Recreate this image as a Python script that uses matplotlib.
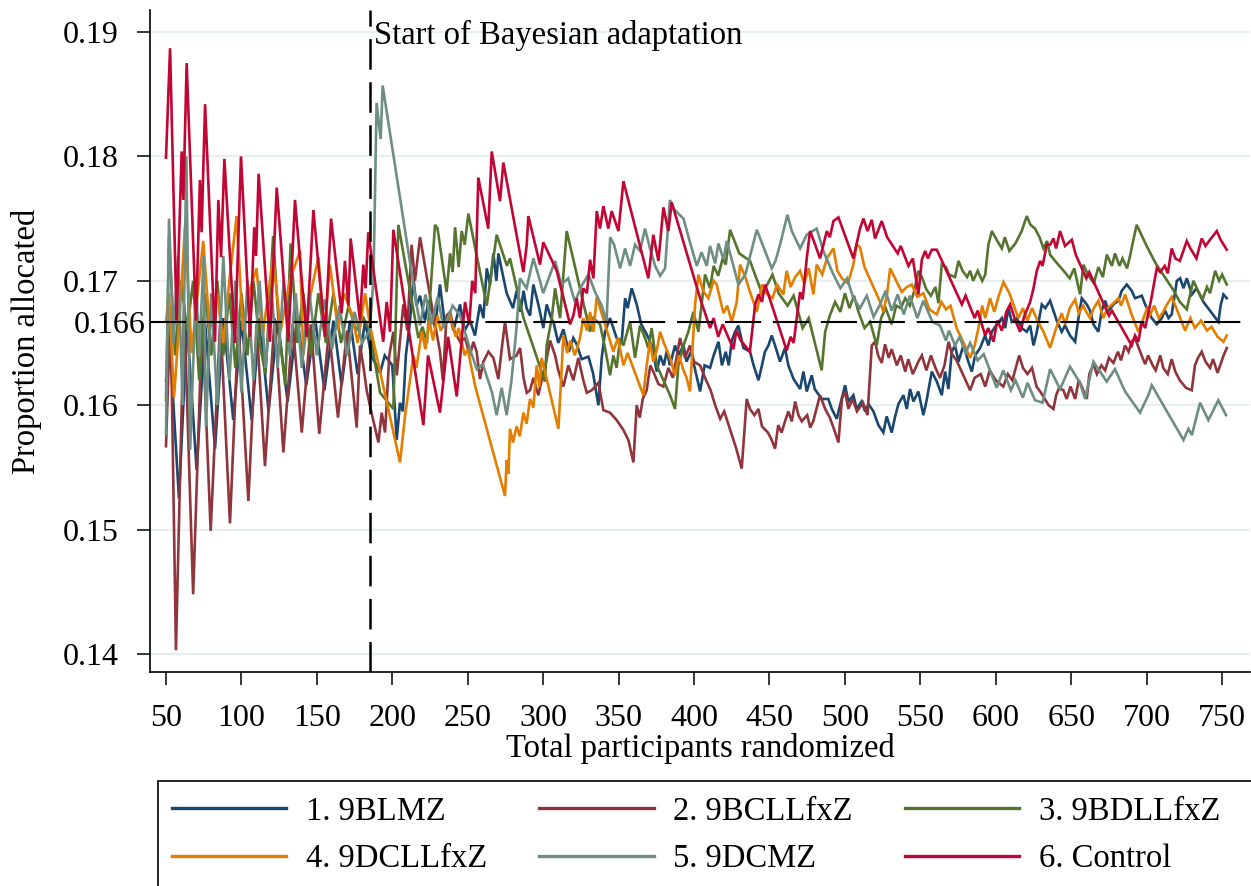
import matplotlib
matplotlib.use("Agg")
import matplotlib.pyplot as plt
from matplotlib.lines import Line2D
from matplotlib.patches import Rectangle

plt.rcParams["font.family"] = ["Liberation Serif", "DejaVu Serif"]
plt.rcParams["lines.scale_dashes"] = False

# ── Series styling ──────────────────────────────────────────────────────────
LABELS = ["1. 9BLMZ", "2. 9BCLLfxZ", "3. 9BDLLfxZ",
          "4. 9DCLLfxZ", "5. 9DCMZ", "6. Control"]
COLORS = ["#1A476F", "#90353B", "#55752F", "#E37E00", "#6E8E84", "#C10534"]

EQUAL_SHARE = 1 / 6
ADAPT_START = 185

# ── Data: participants randomized, proportion ──────────────────────────────
blue_x = [50, 53, 58.6, 64, 70.3, 76, 82.5, 88, 94.6, 100, 106.8, 112, 118, 124, 130.6, 137, 143, 149, 155, 161,
          166.4, 172, 177, 182, 186, 191.9, 195, 200, 202.9, 205.1, 207, 209, 211.7, 214, 216, 218.4, 221.7, 224,
          226.5, 228.3, 231.6, 234.9, 238.3, 240.5, 244.9, 248, 251.5, 254.8, 258.1, 260.4, 262.6, 264.8, 267, 269,
          270.3, 275.8, 280, 282.4, 285, 287, 289, 291.3, 293.5, 297, 300.1, 302.3, 305, 307, 310, 313.4, 317, 320,
          322.2, 325.5, 330, 333, 336.6, 338.8, 341, 344.3, 348.7, 352, 354.3, 356, 358.7, 362, 365, 368.6, 372,
          375.3, 377.5, 380, 382, 384, 387.4, 389.6, 393, 395, 398, 401, 404, 407, 410.6, 413, 416.2, 418.5, 421,
          423, 425, 427.2, 429.4, 432.7, 437.1, 439.5, 442.7, 445, 447, 449.3, 451.5, 453.7, 457, 460.3, 462.5, 466,
          470.3, 472.5, 474.7, 478, 480, 484.6, 489, 491.3, 494.6, 496.8, 500.1, 502.3, 505.6, 507.8, 511.1, 513.4,
          515.6, 518.9, 522.2, 525.5, 527.7, 531, 533.3, 535.5, 538.8, 541, 543.2, 545.4, 548.7, 552, 554, 557.6,
          560.9, 564.2, 566.4, 568.6, 570.8, 573, 575.3, 578.5, 581.8, 584.1, 586.3, 589.6, 592.9, 595.1, 597.4,
          600.7, 604, 606.2, 608.4, 610.6, 613.9, 617.2, 620.5, 622.8, 625, 627.2, 630.5, 632.8, 636, 638.2, 640.4,
          643.7, 645.9, 649.2, 652.6, 654.8, 657, 660.3, 662.5, 664.7, 668, 670.2, 672.5, 674.7, 678, 681.3, 683.5,
          686.8, 690.1, 692.3, 696.8, 699, 703.4, 706.7, 710, 712.2, 714.5, 716.6, 720, 722.2, 724.4, 726.6, 730,
          733, 737.6, 742, 747.6, 749, 750.9, 753.1]
blue_y = [.1620, .1640, .1525, .1665, .1548, .1665, .1565, .1670, .1588, .1668, .1588, .1670, .1595, .1668, .1603,
          .1670, .1616, .1668, .1612, .1668, .1616, .1668, .1625, .1668, .1640, .1626, .1640, .1632, .1572, .1602,
          .1595, .1640, .1667, .1702, .1680, .1688, .1668, .1684, .1675, .1662, .1697, .1664, .1672, .1660, .1681,
          .1660, .1668, .1656, .1681, .1670, .1710, .1697, .1722, .1700, .1722, .1690, .1678, .1692, .1675, .1692,
          .1678, .1672, .1697, .1680, .1662, .1681, .1671, .1666, .1650, .1661, .1643, .1654, .1649, .1637, .1639,
          .1626, .1600, .1638, .1659, .1670, .1654, .1650, .1686, .1678, .1694, .1681, .1665, .1657, .1648, .1627,
          .1640, .1632, .1644, .1632, .1648, .1640, .1648, .1635, .1643, .1627, .1611, .1632, .1630, .1640, .1651,
          .1632, .1643, .1632, .1652, .1659, .1664, .1646, .1643, .1632, .1620, .1632, .1643, .1648, .1656, .1648,
          .1635, .1646, .1632, .1621, .1613, .1627, .1611, .1624, .1613, .1605, .1605, .1597, .1589, .1600, .1616,
          .1603, .1608, .1597, .1603, .1595, .1601, .1595, .1584, .1578, .1591, .1578, .1591, .1601, .1608, .1597,
          .1613, .1603, .1611, .1592, .1603, .1627, .1619, .1608, .1627, .1613, .1643, .1648, .1635, .1648, .1635,
          .1627, .1640, .1646, .1656, .1648, .1659, .1665, .1670, .1662, .1678, .1667, .1670, .1662, .1659, .1664,
          .1648, .1659, .1681, .1678, .1684, .1676, .1668, .1659, .1664, .1656, .1651, .1670, .1686, .1681, .1676,
          .1665, .1659, .1676, .1684, .1676, .1681, .1684, .1692, .1697, .1692, .1686, .1688, .1681, .1670, .1665,
          .1670, .1676, .1670, .1673, .1700, .1702, .1694, .1702, .1689, .1694, .1683, .1676, .1667, .1680, .1689,
          .1686]

maroon_x = [50, 53, 56.6, 62, 68, 74, 79.6, 86, 92.4, 98, 104.6, 110, 115.6, 122, 127.8, 134, 140, 146, 151.6, 158,
            164, 170, 176.4, 178.6, 181, 183, 186, 190.8, 193, 195.2, 198, 200.7, 203, 207.3, 210, 212.8, 215,
            218.4, 225, 231.6, 233.5, 236, 238.3, 241, 244.9, 248.2, 251.5, 253.7, 255.9, 258.1, 260.4, 263.7, 267,
            270.3, 272.5, 274.7, 278, 282.4, 284.7, 287, 289.1, 291.3, 293.5, 296.8, 299, 301.2, 304.6, 307.9, 310,
            313.4, 316.7, 320, 323.3, 326.6, 328.9, 332.2, 336.6, 339.9, 344.3, 348.7, 353.2, 356.5, 359.8, 362, 364,
            366, 368.6, 371, 373, 376.4, 379.7, 383, 386, 390.7, 394, 397.3, 400, 404, 408, 411, 414, 417.3, 420, 424,
            428, 431.6, 434.9, 437, 440, 442.7, 445, 449, 451.5, 453.7, 455.8, 458, 460.3, 462.5, 464.8, 467, 469.2,
            471.4, 475, 477, 479, 483.5, 486.9, 490, 493, 495.7, 498, 500.1, 502.3, 505, 508, 512, 515, 517.8, 520,
            522, 524.4, 526.6, 529, 531, 534.4, 537, 540, 542, 545, 548.7, 551, 554, 557, 560, 563, 566, 568.7, 571,
            574, 577, 580, 583, 586, 590, 593, 596, 600, 605, 608, 611, 615.5, 618, 621, 624, 627, 630, 635, 638.2,
            640, 642, 644.8, 647, 649.5, 652.6, 655, 657, 660.3, 662, 664.7, 667, 670, 672.5, 675, 678, 681, 683,
            685.7, 688, 690.1, 692.3, 696, 699, 701, 704, 706, 709, 711, 714, 716.6, 719, 722, 726, 729.9, 732, 734,
            736.5, 739, 742, 744, 747, 749, 751, 753.1]
maroon_y = [.1567, .1680, .1403, .1680, .1448, .1670, .1499, .1670, .1505, .1665, .1523, .1665, .1551, .1670, .1562,
            .1665, .1578, .1665, .1577, .1660, .1590, .1660, .1582, .1648, .1630, .1612, .1595, .1570, .1594, .1578,
            .1640, .1659, .1624, .1681, .1660, .1729, .1700, .1735, .1688, .1643, .1620, .1672, .1675, .1660, .1651,
            .1654, .1640, .1651, .1643, .1621, .1635, .1643, .1638, .1621, .1645, .1667, .1637, .1640, .1646, .1622,
            .1610, .1612, .1622, .1608, .1620, .1630, .1652, .1640, .1628, .1615, .1632, .1620, .1638, .1620, .1610,
            .1612, .1618, .1596, .1594, .1588, .1580, .1572, .1554, .1600, .1590, .1605, .1612, .1632, .1627, .1617,
            .1615, .1630, .1622, .1654, .1638, .1648, .1635, .1632, .1620, .1612, .1600, .1589, .1595, .1580, .1565,
            .1549, .1605, .1597, .1592, .1597, .1583, .1578, .1572, .1565, .1584, .1578, .1587, .1595, .1587, .1603,
            .1592, .1587, .1592, .1582, .1587, .1608, .1597, .1590, .1580, .1570, .1605, .1611, .1597, .1605, .1595,
            .1602, .1592, .1648, .1651, .1640, .1634, .1649, .1638, .1645, .1632, .1640, .1627, .1637, .1625, .1635,
            .1640, .1628, .1640, .1630, .1622, .1632, .1651, .1641, .1636, .1628, .1620, .1612, .1622, .1625, .1615,
            .1628, .1620, .1615, .1625, .1620, .1640, .1630, .1625, .1630, .1615, .1610, .1600, .1597, .1608, .1614,
            .1612, .1605, .1615, .1605, .1620, .1615, .1605, .1625, .1633, .1625, .1632, .1628, .1638, .1634, .1643,
            .1636, .1648, .1643, .1651, .1654, .1642, .1633, .1640, .1632, .1628, .1640, .1630, .1625, .1637, .1627,
            .1620, .1614, .1612, .1632, .1638, .1643, .1635, .1630, .1637, .1626, .1633, .1640, .1646]

green_x = [50, 52, 56, 60, 64, 68, 72, 76, 80, 84, 88, 92, 96, 100, 104, 108, 112, 116, 121, 125, 129, 132.6, 137,
           141, 146, 151, 156, 161, 166, 171, 176, 181, 185, 191.9, 200.7, 204, 217.3, 220, 223, 228.3, 230, 236,
           238.3, 240, 241.6, 244, 246, 248, 250.4, 262.6, 269.2, 276, 278, 287, 301.2, 302.3, 305.7, 307.9, 311.2,
           315.6, 331.1, 333.3, 337.7, 341, 344.3, 346.5, 348.7, 351, 353.2, 357.6, 360.9, 364.2, 367.5, 369.7,
           371.9, 375.3, 384.1, 387.4, 389.6, 393, 396.2, 399.6, 402.9, 407.3, 410.6, 413, 416, 419, 421, 423.9,
           430, 437.1, 441, 445, 449, 452, 456, 462, 466, 472, 476, 484.6, 486.9, 490, 493.5, 497, 500, 503, 506,
           509, 513, 516.7, 521.1, 524, 527, 531, 534, 537, 540, 543, 546, 548.7, 551, 554, 557, 560, 562, 564.2,
           567, 569, 573, 575.3, 578, 581, 583, 585, 588, 591, 593, 595.1, 597.4, 601, 604, 606, 609, 613, 617.2,
           620.5, 623, 626, 629, 631.6, 634, 636, 640, 645, 649, 652, 655.9, 658.1, 661, 665, 668, 671, 673.6, 677,
           679, 682, 684, 687, 689, 691.2, 693.4, 700, 706, 712, 718, 722, 726.6, 729, 731, 734, 737, 740, 742,
           745.4, 748, 750, 753.1]
green_y = [.1604, .1735, .1640, .1700, .1660, .1700, .1620, .1690, .1640, .1700, .1640, .1690, .1630, .1690, .1640,
           .1700, .1650, .1625, .1736, .1660, .1616, .1730, .1650, .1690, .1640, .1690, .1650, .1690, .1650, .1680,
           .1660, .1670, .1660, .1610, .1597, .1745, .1654, .1663, .1650, .1745, .1742, .1691, .1722, .1707, .1743,
           .1711, .1740, .1729, .1754, .1680, .1737, .1712, .1718, .1670, .1619, .1648, .1670, .1694, .1670, .1740,
           .1659, .1670, .1665, .1646, .1624, .1640, .1630, .1654, .1648, .1667, .1638, .1664, .1654, .1646, .1662,
           .1632, .1608, .1597, .1632, .1648, .1659, .1675, .1659, .1705, .1694, .1712, .1704, .1718, .1713, .1741,
           .1722, .1716, .1703, .1690, .1698, .1705, .1690, .1680, .1688, .1662, .1670, .1628, .1659, .1672, .1683,
           .1675, .1690, .1678, .1688, .1675, .1662, .1667, .1648, .1670, .1678, .1665, .1680, .1678, .1686, .1680,
           .1692, .1708, .1703, .1693, .1688, .1695, .1682, .1713, .1711, .1705, .1703, .1716, .1708, .1703, .1708,
           .1700, .1708, .1700, .1705, .1729, .1740, .1732, .1726, .1735, .1724, .1730, .1740, .1752, .1745, .1742,
           .1735, .1726, .1732, .1721, .1715, .1708, .1702, .1710, .1689, .1713, .1705, .1698, .1711, .1703, .1721,
           .1712, .1722, .1712, .1718, .1710, .1720, .1733, .1745, .1728, .1714, .1703, .1692, .1683, .1677, .1690,
           .1700, .1692, .1685, .1695, .1690, .1708, .1700, .1705, .1697]

orange_x = [50, 52, 55.3, 59, 62.6, 67, 71, 74.7, 79, 84, 88, 92, 96.8, 101, 105, 110, 114, 121, 126, 132, 138.8,
            141, 146, 151, 155, 158.7, 164, 168, 173, 177, 182, 185.2, 205.1, 208.4, 210.6, 214, 216, 219.5, 222,
            224.6, 227, 230, 232, 236, 238.3, 242, 244, 248, 250, 255, 274.7, 275.8, 277, 278, 280, 282.4, 284.5,
            286.9, 289, 291.3, 293.5, 295.7, 297.5, 299, 301, 310.1, 311.2, 313.4, 316, 318, 321, 324.4, 326.6, 329,
            331.1, 333.3, 335.5, 346.5, 349.5, 353.2, 356, 366.4, 368.6, 370.8, 373, 375.5, 377.5, 380, 384.1,
            387.4, 390, 393, 395.1, 397.3, 400.7, 402.9, 406, 409.5, 413, 415, 419.5, 422, 425, 428.3, 430.5, 434,
            437.1, 441.6, 445, 448, 452, 455, 459.2, 461.4, 464, 467, 470.3, 473, 476, 479.1, 481.3, 485, 488,
            492.4, 495, 498, 502, 505.6, 507.8, 510, 513, 516.7, 520, 523.3, 525.5, 528, 530, 534, 537.7, 541,
            544.3, 548, 552, 556, 560.9, 564, 567, 570, 574, 578, 583, 586, 588.5, 591, 593, 596.2, 599, 602, 605.1,
            609, 612, 615, 618, 621, 624, 628, 631.6, 636, 640, 643.7, 646, 649, 652.6, 655, 658, 660, 662.5, 665,
            668, 671.3, 674, 678, 681.3, 683, 685.7, 690, 694.5, 697, 700, 702, 705, 708, 711, 713, 716.6, 720,
            725.5, 729, 732, 736, 740, 743, 747, 750.9, 753.1]
orange_y = [.1667, .1690, .1606, .1670, .1744, .1642, .1690, .1732, .1660, .1690, .1650, .1700, .1752, .1660, .1690,
            .1710, .1655, .1719, .1660, .1700, .1724, .1640, .1690, .1719, .1660, .1713, .1660, .1690, .1674, .1650,
            .1690, .1664, .1554, .1591, .1610, .1640, .1630, .1659, .1645, .1668, .1652, .1672, .1660, .1668, .1672,
            .1655, .1662, .1640, .1645, .1615, .1527, .1556, .1545, .1581, .1570, .1583, .1575, .1594, .1585, .1605,
            .1598, .1632, .1615, .1638, .1628, .1581, .1605, .1656, .1642, .1652, .1640, .1654, .1670, .1660, .1675,
            .1659, .1687, .1643, .1654, .1632, .1642, .1608, .1632, .1651, .1635, .1645, .1659, .1650, .1638, .1624,
            .1640, .1628, .1622, .1611, .1681, .1705, .1692, .1686, .1700, .1697, .1674, .1680, .1667, .1683, .1713,
            .1703, .1691, .1675, .1697, .1690, .1686, .1697, .1689, .1708, .1695, .1703, .1708, .1698, .1710, .1689,
            .1713, .1705, .1718, .1726, .1708, .1702, .1698, .1713, .1729, .1727, .1711, .1701, .1692, .1683, .1675,
            .1690, .1710, .1700, .1691, .1695, .1697, .1687, .1690, .1677, .1673, .1683, .1677, .1680, .1662, .1652,
            .1638, .1648, .1662, .1680, .1670, .1686, .1675, .1688, .1699, .1690, .1680, .1670, .1678, .1668, .1678,
            .1667, .1659, .1646, .1662, .1674, .1665, .1678, .1685, .1674, .1680, .1675, .1670, .1678, .1684, .1670,
            .1678, .1682, .1686, .1680, .1689, .1673, .1659, .1667, .1677, .1672, .1680, .1670, .1675, .1680, .1687,
            .1677, .1660, .1670, .1662, .1668, .1660, .1663, .1655, .1651, .1656]

teal_x = [50, 52, 55, 58, 61, 63.5, 66, 70, 72, 75, 76.5, 80, 84, 88, 92, 96, 100, 104, 108, 112, 116, 120, 124,
          128, 132, 136, 140, 145, 150, 155, 160, 165, 170, 175, 180, 185, 187.5, 189.6, 192.3, 193.6, 214, 218.4,
          222, 226, 230, 234, 240, 244.9, 251.5, 256, 260, 265.9, 269.2, 272.5, 275.8, 279, 282.4, 284.6, 289,
          293.5, 297.9, 300, 307.9, 312, 316.6, 321, 325.5, 330, 334.4, 338.8, 342, 344.4, 347, 351, 354.3, 357.6,
          360.9, 364.2, 367.5, 370.8, 374.2, 377.5, 380.8, 384, 386.3, 393, 397.3, 401.8, 405, 408.4, 410.6, 414,
          416.2, 419.5, 421.7, 429.4, 434, 441.6, 451.5, 454, 457, 461.9, 464.8, 470.3, 474.7, 481.3, 485.7, 492.4,
          497, 501.4, 505.6, 510, 514.5, 519, 523.3, 527, 531, 535, 539, 543, 548, 552, 558, 563, 567, 569, 573,
          576, 580, 583, 588, 592, 600.6, 605, 610, 613, 618, 621, 626, 631, 636, 642.6, 649.2, 655.8, 659.2,
          664.7, 673.5, 679, 685.7, 695.6, 701.1, 703.4, 724.4, 727.7, 730, 735.4, 740.9, 747.5, 752.6]
teal_y = [.1577, .1750, .1650, .1720, .1600, .1800, .1564, .1700, .1640, .1720, .1583, .1690, .1600, .1720, .1620,
          .1700, .1610, .1700, .1620, .1700, .1630, .1690, .1630, .1700, .1640, .1690, .1630, .1690, .1640, .1685,
          .1645, .1680, .1640, .1675, .1650, .1660, .1700, .1843, .1814, .1857, .1697, .1664, .1689, .1665, .1687,
          .1662, .1680, .1672, .1645, .1629, .1633, .1611, .1592, .1614, .1592, .1620, .1663, .1702, .1694, .1718,
          .1700, .1690, .1716, .1697, .1702, .1683, .1696, .1705, .1691, .1680, .1667, .1735, .1729, .1710, .1726,
          .1712, .1729, .1724, .1742, .1726, .1712, .1704, .1710, .1765, .1758, .1750, .1731, .1712, .1723, .1712,
          .1728, .1714, .1730, .1717, .1732, .1697, .1705, .1741, .1710, .1716, .1729, .1753, .1740, .1726, .1737,
          .1742, .1724, .1705, .1694, .1702, .1686, .1678, .1688, .1671, .1681, .1692, .1676, .1689, .1673, .1688,
          .1670, .1684, .1667, .1664, .1652, .1660, .1648, .1655, .1642, .1650, .1636, .1641, .1614, .1628, .1612,
          .1620, .1606, .1618, .1604, .1602, .1629, .1613, .1631, .1618, .1605, .1635, .1619, .1629, .1611, .1594,
          .1608, .1616, .1572, .1581, .1576, .1602, .1588, .1604, .1592]

red_x = [50, 52.7, 57, 60.4, 61.5, 63.7, 69.9, 72.5, 73.6, 75.9, 82.5, 84.7, 86.5, 88.7, 95.7, 99.7, 105.7, 108.5,
         109.7, 111.4, 118.9, 123.4, 131.1, 135.5, 143.2, 147.7, 155.4, 159.4, 166.4, 168.6, 170.9, 172.4, 178.6,
         180.8, 182.3, 184.1, 194, 196.3, 198.5, 200.7, 220.6, 223.7, 231.6, 237, 242.7, 248.2, 251, 253, 255, 257,
         263.6, 265.9, 271.4, 273.6, 286.9, 289.1, 290.2, 297.9, 300.1, 309, 317.8, 320, 322.2, 324.4, 326.6, 329,
         331.1, 333.3, 335.5, 337.7, 339.9, 343.2, 345.4, 349.9, 353.2, 369.7, 373, 376.4, 379.7, 383, 385.2, 404,
         410.6, 413, 416, 419, 426.1, 428, 431, 437, 440.5, 442.7, 445, 447.1, 449, 461.4, 464, 466, 470.3, 472,
         474.7, 476.9, 480, 483.5, 488, 490, 492.4, 495.7, 505.6, 510, 512.3, 515, 517.8, 520, 524.4, 528, 535, 537,
         542.1, 545, 548.7, 551, 553.2, 555, 557.6, 560.9, 577.5, 580, 586, 588, 593, 595, 598.5, 601, 604, 607,
         609.5, 613, 616.1, 619, 622.8, 625, 627.2, 629.4, 631, 633.8, 636, 638.2, 640, 642.6, 645.9, 650.4, 653,
         660, 662, 675, 677, 690.1, 692.3, 694.5, 696.8, 699, 703, 706.7, 709, 712, 714, 716.6, 719, 722, 726.6,
         729, 733, 736.5, 739, 742, 746.5, 749, 753.1]
red_y = [.1799, .1887, .1668, .1804, .1765, .1875, .1668, .1781, .1739, .1842, .1651, .1765, .1719, .1798, .1650,
         .1800, .1655, .1743, .1720, .1786, .1651, .1775, .1651, .1765, .1655, .1757, .1655, .1750, .1674, .1716,
         .1680, .1734, .1668, .1713, .1694, .1739, .1651, .1683, .1659, .1741, .1584, .1640, .1594, .1655, .1607,
         .1683, .1665, .1700, .1690, .1783, .1742, .1804, .1764, .1795, .1707, .1729, .1752, .1713, .1731, .1708,
         .1665, .1672, .1686, .1670, .1694, .1690, .1717, .1702, .1756, .1742, .1760, .1742, .1756, .1740, .1780,
         .1702, .1737, .1716, .1759, .1740, .1763, .1686, .1662, .1670, .1655, .1665, .1645, .1660, .1652, .1643,
         .1681, .1689, .1683, .1697, .1690, .1644, .1655, .1650, .1691, .1685, .1718, .1740, .1730, .1718, .1740,
         .1735, .1748, .1751, .1718, .1742, .1750, .1740, .1749, .1734, .1748, .1735, .1722, .1728, .1712, .1718,
         .1689, .1717, .1724, .1718, .1725, .1725, .1681, .1688, .1670, .1676, .1656, .1662, .1651, .1668, .1660,
         .1675, .1681, .1668, .1659, .1672, .1683, .1694, .1708, .1716, .1712, .1729, .1729, .1734, .1726, .1740,
         .1728, .1733, .1721, .1702, .1707, .1672, .1676, .1648, .1656, .1651, .1667, .1662, .1685, .1710, .1707,
         .1712, .1706, .1726, .1718, .1716, .1732, .1726, .1718, .1734, .1728, .1733, .1740, .1733, .1725]

SERIES_X = [blue_x, maroon_x, green_x, orange_x, teal_x, red_x]
SERIES_Y = [blue_y, maroon_y, green_y, orange_y, teal_y, red_y]

Y_TICKS = [0.14, 0.15, 0.16, 0.17, 0.18, 0.19]
X_TICKS = list(range(50, 751, 50))

# ── Figure ─────────────────────────────────────────────────────────────────
W, H = 1251, 886
FS = 23.5
fig = plt.figure(figsize=(W / 100, H / 100), dpi=100, facecolor="white")
ax = fig.add_axes([150 / W, 1 - 672 / H, 1100 / W, 662 / H])

for xs, ys, c in zip(SERIES_X, SERIES_Y, COLORS):
    ax.plot(xs, ys, color=c, lw=1.9, solid_joinstyle="miter", zorder=3)

ax.axhline(EQUAL_SHARE, color="black", lw=1.5, dashes=(26, 8.5), zorder=5)
ax.axvline(ADAPT_START, color="black", lw=1.8, dashes=(22, 9), zorder=5)
ax.text(188, 0.18976, "Start of Bayesian adaptation", fontsize=FS, ha="left", va="center")

ax.set_xlim(39.4, 768.5)
ax.set_ylim(0.13855, 0.19177)

ax.set_yticks(Y_TICKS)
ax.set_yticklabels([f"{v:.2f}" for v in Y_TICKS])
ax.set_yticks([EQUAL_SHARE], ["0.166"], minor=True)
ax.set_xticks(X_TICKS)

ax.tick_params(axis="both", which="major", direction="out", length=9.4, width=1.1,
               labelsize=FS - 0.5, color="black")
ax.tick_params(axis="x", pad=14)
ax.tick_params(axis="y", which="major", pad=13)
ax.tick_params(axis="y", which="minor", length=0, pad=3, labelsize=FS - 0.5)
ax.tick_params(axis="x", which="minor", bottom=False)

ax.yaxis.grid(True, which="major", color="#E6EFF1", lw=1.6, zorder=0)
ax.set_axisbelow(True)

for side in ("top", "right"):
    ax.spines[side].set_visible(False)
for side in ("left", "bottom"):
    ax.spines[side].set_linewidth(1.2)

ax.set_ylabel("Proportion allocated", fontsize=FS, labelpad=15)
ax.set_xlabel("Total participants randomized", fontsize=FS, labelpad=0)

# ── Legend (row-wise order, frame runs off the canvas like the original) ───
frame = Rectangle((158 / W, -0.3), 1.0, (1 - 781 / H) + 0.3, transform=fig.transFigure,
                  fill=False, ec="black", lw=1.2)
fig.add_artist(frame)

handles = [Line2D([], [], color=c, lw=2.4) for c in COLORS]
order = [0, 3, 1, 4, 2, 5]
fig.legend([handles[i] for i in order], [LABELS[i] for i in order], ncol=3,
           loc="upper left", bbox_to_anchor=(172 / W, 1 - 796 / H), frameon=False,
           fontsize=FS, handlelength=3.5, handletextpad=0.6, columnspacing=1.6,
           borderpad=0, borderaxespad=0, labelspacing=0.52)

fig.savefig("out.png", dpi=100, facecolor="white")
